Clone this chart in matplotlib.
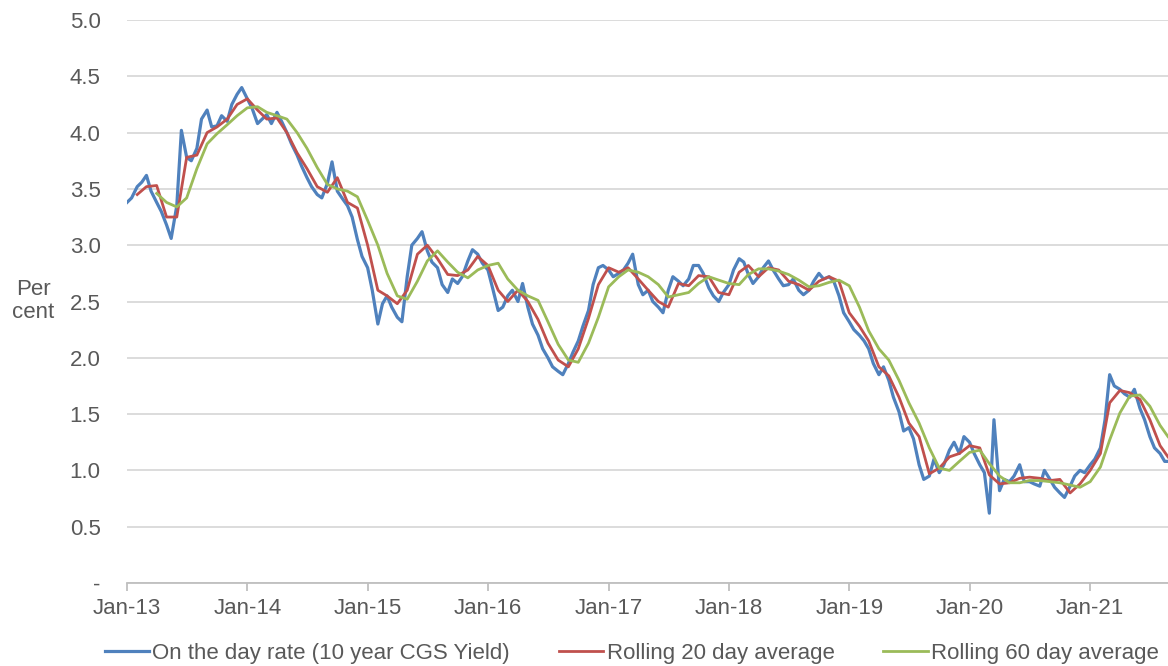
import numpy as np
import pandas as pd
import matplotlib
matplotlib.use("Agg")
import matplotlib.pyplot as plt
import matplotlib.dates as mdates

plt.rcParams['font.family'] = ['Liberation Sans', 'DejaVu Sans']

# 10 year CGS yield, read at the 1st and 15th of each month (per cent)
blue_2013 = [3.38, 3.42, 3.52, 3.56, 3.62, 3.48, 3.38, 3.30, 3.18, 3.06, 3.35, 4.02,
             3.78, 3.75, 3.86, 4.12, 4.20, 4.05, 4.06, 4.15, 4.10, 4.25, 4.34, 4.40]
blue_2014 = [4.30, 4.22, 4.08, 4.12, 4.16, 4.08, 4.18, 4.10, 4.00, 3.90, 3.80, 3.70,
             3.60, 3.52, 3.45, 3.42, 3.55, 3.74, 3.48, 3.42, 3.35, 3.25, 3.05, 2.90]
blue_2015 = [2.80, 2.60, 2.30, 2.48, 2.55, 2.45, 2.36, 2.32, 2.72, 3.00, 3.06, 3.12,
             2.95, 2.85, 2.80, 2.65, 2.58, 2.70, 2.66, 2.72, 2.86, 2.96, 2.92, 2.84]
blue_2016 = [2.78, 2.62, 2.42, 2.45, 2.55, 2.60, 2.50, 2.66, 2.45, 2.30, 2.20, 2.08,
             2.00, 1.92, 1.88, 1.85, 1.95, 2.05, 2.15, 2.28, 2.42, 2.65, 2.80, 2.82]
blue_2017 = [2.78, 2.72, 2.75, 2.78, 2.84, 2.92, 2.65, 2.56, 2.60, 2.50, 2.45, 2.40,
             2.60, 2.72, 2.68, 2.64, 2.70, 2.82, 2.82, 2.75, 2.62, 2.55, 2.50, 2.58]
blue_2018 = [2.65, 2.78, 2.88, 2.85, 2.74, 2.66, 2.72, 2.80, 2.86, 2.78, 2.70, 2.64,
             2.65, 2.70, 2.60, 2.56, 2.60, 2.68, 2.75, 2.70, 2.72, 2.68, 2.55, 2.40]
blue_2019 = [2.32, 2.25, 2.20, 2.15, 2.08, 1.95, 1.85, 1.92, 1.80, 1.65, 1.52, 1.35,
             1.38, 1.28, 1.05, 0.92, 0.95, 1.10, 0.98, 1.05, 1.18, 1.25, 1.15, 1.30]
blue_2020 = [1.25, 1.15, 1.05, 0.98, 0.62, 1.45, 0.82, 0.92, 0.90, 0.95, 1.05, 0.90,
             0.90, 0.88, 0.86, 1.00, 0.92, 0.85, 0.80, 0.76, 0.86, 0.95, 1.00, 0.98]
blue_2021 = [1.05, 1.10, 1.20, 1.45, 1.85, 1.75, 1.72, 1.68, 1.65, 1.72, 1.55, 1.45,
             1.30, 1.20, 1.15, 1.08]

# rolling 20 day average, month starts from Feb-13
red = [3.45, 3.52, 3.53, 3.25, 3.25, 3.78, 3.80, 4.00, 4.05, 4.12, 4.25,
       4.30, 4.20, 4.12, 4.13, 4.00, 3.82, 3.68, 3.52, 3.47, 3.60, 3.38, 3.33,
       3.00, 2.60, 2.55, 2.48, 2.60, 2.92, 3.00, 2.88, 2.74, 2.73, 2.78, 2.90,
       2.82, 2.60, 2.50, 2.60, 2.50, 2.34, 2.13, 1.98, 1.92, 2.08, 2.35, 2.65,
       2.80, 2.76, 2.80, 2.70, 2.60, 2.50, 2.45, 2.66, 2.64, 2.73, 2.72, 2.58,
       2.56, 2.76, 2.82, 2.72, 2.80, 2.78, 2.68, 2.65, 2.60, 2.68, 2.72, 2.68,
       2.40, 2.28, 2.15, 1.92, 1.84, 1.65, 1.42, 1.30, 0.97, 1.02, 1.12, 1.15,
       1.22, 1.20, 0.96, 0.88, 0.89, 0.93, 0.94, 0.93, 0.91, 0.92, 0.80, 0.88,
       1.00, 1.15, 1.60, 1.71, 1.69, 1.63, 1.45, 1.22]

# rolling 60 day average, month starts from Apr-13
green = [3.46, 3.38, 3.34, 3.42, 3.68, 3.90, 3.99, 4.07, 4.15,
         4.22, 4.23, 4.18, 4.15, 4.12, 4.00, 3.86, 3.69, 3.54, 3.50, 3.48, 3.43,
         3.22, 3.00, 2.75, 2.55, 2.52, 2.68, 2.86, 2.95, 2.85, 2.76, 2.71, 2.78,
         2.82, 2.84, 2.70, 2.60, 2.55, 2.51, 2.32, 2.12, 1.98, 1.96, 2.13, 2.36,
         2.63, 2.72, 2.78, 2.76, 2.72, 2.65, 2.54, 2.56, 2.58, 2.66, 2.72, 2.69,
         2.66, 2.65, 2.74, 2.79, 2.79, 2.77, 2.74, 2.69, 2.63, 2.64, 2.67, 2.69,
         2.64, 2.45, 2.24, 2.08, 1.98, 1.80, 1.60, 1.42, 1.20, 1.02, 1.00, 1.08,
         1.16, 1.18, 1.06, 0.95, 0.89, 0.89, 0.91, 0.91, 0.90, 0.89, 0.87, 0.85,
         0.90, 1.03, 1.27, 1.51, 1.66, 1.67, 1.57, 1.40]

# last observation at the right edge of the chart
end_date = pd.Timestamp('2021-08-25')
blue_end, red_end, green_end = 1.08, 1.12, 1.30

blue = blue_2013 + blue_2014 + blue_2015 + blue_2016 + blue_2017 + blue_2018 + blue_2019 + blue_2020 + blue_2021
blue_dates = list(pd.date_range('2013-01-01', periods=len(blue), freq='SMS')) + [end_date]
red_dates = list(pd.date_range('2013-02-01', periods=len(red), freq='MS')) + [end_date]
green_dates = list(pd.date_range('2013-04-01', periods=len(green), freq='MS')) + [end_date]

labels = ['On the day rate (10 year CGS Yield)', 'Rolling 20 day average', 'Rolling 60 day average']
colors = ['#4f81bd', '#c0504d', '#9bbb59']
text_col = '#595959'
fs = 16

fig = plt.figure(figsize=(11.68, 6.66), dpi=100)
ax = fig.add_axes([127 / 1168, 1 - 583 / 666, 1 - 127 / 1168, 563 / 666])

ax.plot(blue_dates, blue + [blue_end], color=colors[0], lw=2.3, label=labels[0])
ax.plot(red_dates, red + [red_end], color=colors[1], lw=2.0, label=labels[1])
ax.plot(green_dates, green + [green_end], color=colors[2], lw=2.0, label=labels[2])

ax.set_xlim(pd.Timestamp('2013-01-01'), end_date)
ax.set_ylim(0, 5.0)

yt = np.arange(0, 5.01, 0.5)
ax.set_yticks(yt)
ax.set_yticklabels(['-'] + [f'{v:.1f}' for v in yt[1:]])
ax.grid(axis='y', color='#d9d9d9', lw=1.3)
ax.set_axisbelow(True)

ax.xaxis.set_major_locator(mdates.YearLocator())
ax.xaxis.set_major_formatter(mdates.DateFormatter('%b-%y'))

for s in ['top', 'right', 'left']:
    ax.spines[s].set_visible(False)
ax.spines['bottom'].set_color('#bfbfbf')
ax.spines['bottom'].set_linewidth(1.3)
ax.tick_params(axis='x', colors='#bfbfbf', length=6, width=1.3, labelcolor=text_col,
               labelsize=fs, pad=5)
ax.tick_params(axis='y', length=0, labelcolor=text_col, labelsize=fs, pad=19)

fig.text(33 / 1168, 1 - 301 / 666, 'Per\ncent', ha='center', va='center',
         color=text_col, fontsize=fs, linespacing=1.1)

fig.legend(loc='center', bbox_to_anchor=(0.541, 1 - 653 / 666), ncol=3, frameon=False,
           fontsize=fs, handlelength=2.0, handletextpad=0.15, columnspacing=2.2,
           labelcolor=text_col)

fig.savefig('out.png', dpi=100)
